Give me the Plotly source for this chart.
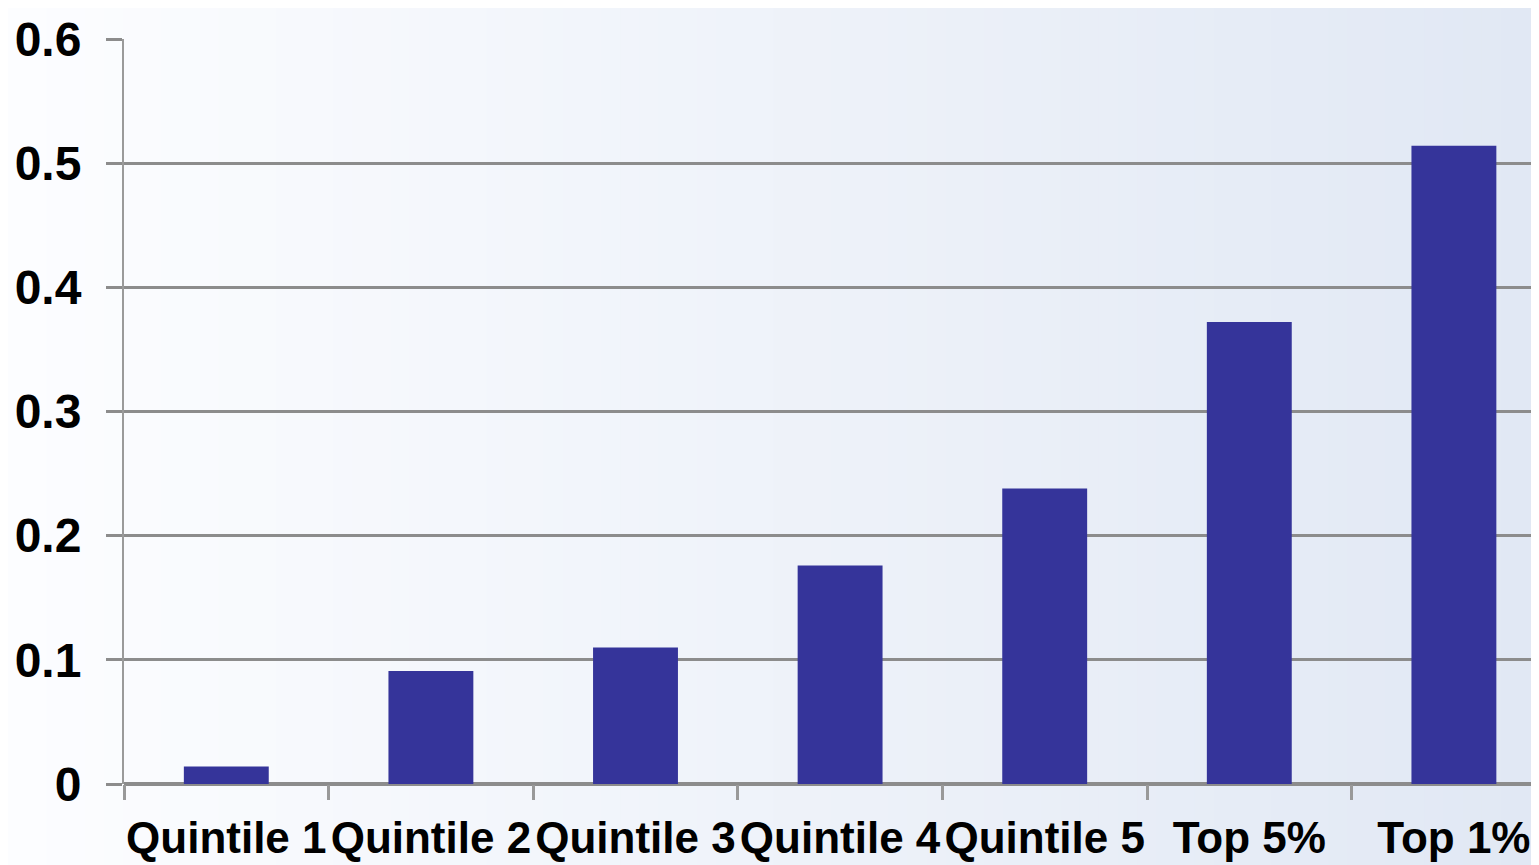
import plotly.graph_objects as go

categories = ["Quintile 1", "Quintile 2", "Quintile 3", "Quintile 4", "Quintile 5", "Top 5%", "Top 1%"]
values = [0.014, 0.091, 0.110, 0.176, 0.238, 0.372, 0.514]
y_ticks = [0, 0.1, 0.2, 0.3, 0.4, 0.5, 0.6]
y_tick_labels = ["0", "0.1", "0.2", "0.3", "0.4", "0.5", "0.6"]

OFF = 8  # page body offset
W, H = 1539 - OFF, 865 - OFF
L, R, T, B = 124 - OFF, 0, 39 - OFF, 81
plot_w = W - L - R

fig = go.Figure()
fig.add_trace(go.Bar(x=categories, y=values, marker=dict(color="#35349A", line=dict(width=0))))

# horizontal background gradient (white -> light blue) across the whole picture
shapes = []
n = 80
c0 = (252, 253, 255)
c1 = (225, 232, 244)
for i in range(n):
    t = i / (n - 1)
    col = tuple(round(c0[k] + (c1[k] - c0[k]) * t) for k in range(3))
    px0 = W * i / n
    px1 = W * (i + 1) / n + 1
    shapes.append(dict(type="rect", xref="paper", yref="paper",
                       x0=(px0 - L) / plot_w, x1=(px1 - L) / plot_w,
                       y0=-B / (H - T - B) - 0.05, y1=(H - B) / (H - T - B) + 0.1,
                       fillcolor="rgb(%d,%d,%d)" % col, line=dict(width=0), layer="below"))

fig.update_layout(
    width=W, height=H,
    margin=dict(l=L, r=R, t=T, b=B),
    paper_bgcolor="white",
    plot_bgcolor="rgba(0,0,0,0)",
    shapes=shapes,
    bargap=0.585,
    showlegend=False,
    xaxis=dict(
        range=[-0.5, -0.5 + plot_w / 204.6],
        tickson="boundaries",
        ticks="outside", ticklen=15, tickwidth=3, tickcolor="#999999",
        showgrid=False,
        showline=False,
        tickangle=0,
        tickfont=dict(family="Liberation Sans", size=44, color="black", weight="bold"),
        ticklabelstandoff=24,
    ),
    yaxis=dict(
        range=[0, 0.6],
        tickvals=y_ticks, ticktext=y_tick_labels,
        ticks="outside", ticklen=16, tickwidth=3, tickcolor="#8c8c8c",
        showgrid=True, gridcolor="#8c8c8c", gridwidth=3,
        zeroline=True, zerolinecolor="#8c8c8c", zerolinewidth=4,
        showline=True, linecolor="#9a9a9a", linewidth=2,
        tickfont=dict(family="Liberation Sans", size=48, color="black", weight="bold"),
        ticklabelstandoff=15,
    ),
)

fig.write_html("out.html")
